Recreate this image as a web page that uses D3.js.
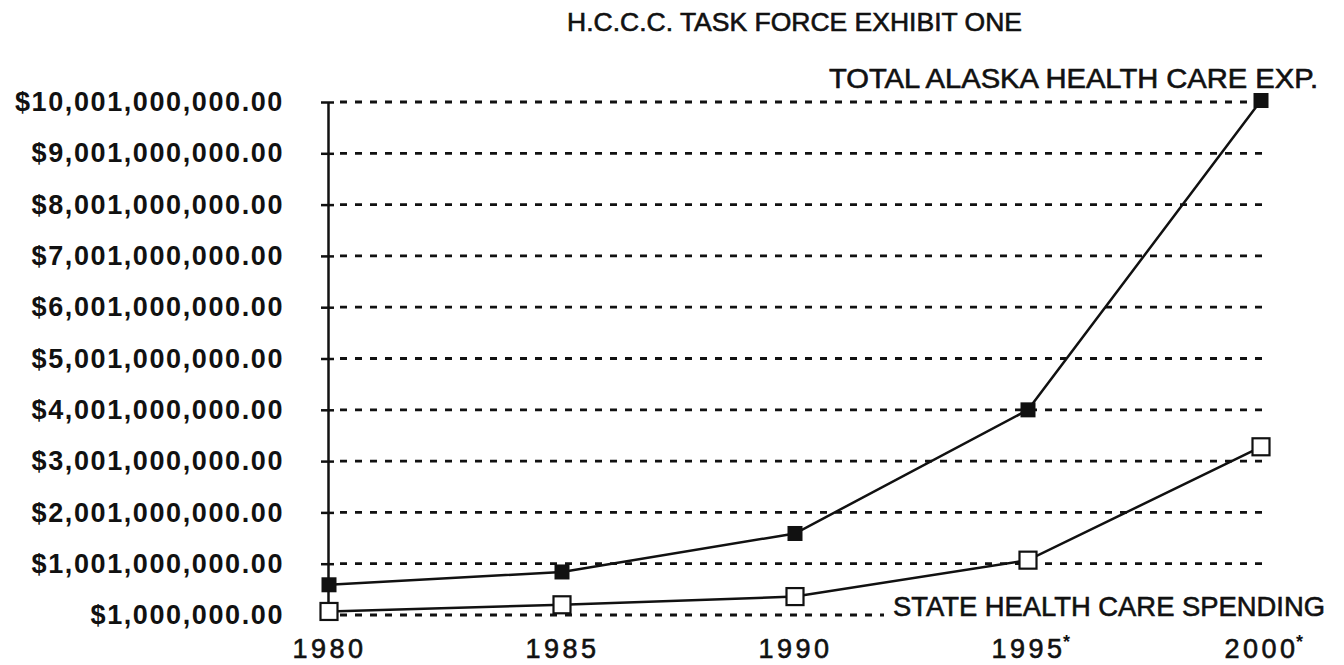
<!DOCTYPE html>
<html><head><meta charset="utf-8">
<script src="https://cdn.jsdelivr.net/npm/d3@7"></script>
<style>body{margin:0;background:#fff}</style>
</head><body>
<svg id="chart" width="1344" height="665"></svg>
<script>
const years = [1980, 1985, 1990, 1995, 2000];
const yearLabels = ["1980", "1985", "1990", "1995", "2000"];
const yearNotes = ["", "", "", "*", "*"];
const totalExp = [590e6, 840e6, 1590e6, 4000e6, 10030e6];
const stateSpending = [70e6, 200e6, 360e6, 1070e6, 3280e6];
const yTicks = [1e6, 1001e6, 2001e6, 3001e6, 4001e6, 5001e6, 6001e6, 7001e6, 8001e6, 9001e6, 10001e6];
const yTickLabels = ["$1,000,000.00", "$1,001,000,000.00", "$2,001,000,000.00", "$3,001,000,000.00",
  "$4,001,000,000.00", "$5,001,000,000.00", "$6,001,000,000.00", "$7,001,000,000.00",
  "$8,001,000,000.00", "$9,001,000,000.00", "$10,001,000,000.00"];
const titleText = "H.C.C.C. TASK FORCE EXHIBIT ONE";
const totalLabel = "TOTAL ALASKA HEALTH CARE EXP.";
const stateLabel = "STATE HEALTH CARE SPENDING";

const svg = d3.select("#chart");
const font = "'Liberation Sans', Arial, Helvetica, sans-serif";
const ink = "#111";
svg.append("rect").attr("width", 1344).attr("height", 665).attr("fill", "#fff");

const x = d3.scaleLinear().domain([1980, 2000]).range([329, 1261]);
const y = d3.scaleLinear().domain([1e6, 10001e6]).range([615, 102]);

// title
svg.append("text").attr("x", 567).attr("y", 31)
  .attr("font-family", font).attr("font-size", 25).attr("fill", ink)
  .attr("stroke", ink).attr("stroke-width", 0.6)
  .attr("textLength", 455).attr("lengthAdjust", "spacingAndGlyphs")
  .text(titleText);

// gridlines
svg.append("g").selectAll("line").data(yTicks).join("line")
  .attr("x1", 340)
  .attr("x2", (d, i) => i === 0 ? 884 : 1262)
  .attr("y1", d => y(d)).attr("y2", d => y(d))
  .attr("stroke", ink).attr("stroke-width", 2.8)
  .attr("stroke-dasharray", "7,8");

// y axis
const yAxis = svg.append("g").attr("transform", "translate(328,0)")
  .call(d3.axisLeft(y).tickValues(yTicks).tickFormat((d, i) => yTickLabels[i])
    .tickSizeInner(6).tickSizeOuter(0).tickPadding(38));
yAxis.select(".domain").attr("stroke", ink).attr("stroke-width", 2.5);
yAxis.selectAll(".tick line").attr("x1", 6).attr("x2", -7).attr("stroke", ink).attr("stroke-width", 2.5);
yAxis.selectAll(".tick text").attr("font-family", font).attr("font-size", 27)
  .attr("font-weight", "bold").attr("fill", ink).attr("letter-spacing", 1.6);

// x axis labels
const xAxis = svg.append("g")
  .call(d3.axisBottom(x).tickValues(years).tickFormat((d, i) => yearLabels[i]).tickSize(0));
xAxis.select(".domain").remove();
xAxis.selectAll(".tick text").attr("y", 658).attr("dy", 0)
  .attr("font-family", font).attr("font-size", 27).attr("fill", ink)
  .attr("stroke", ink).attr("stroke-width", 0.6)
  .attr("letter-spacing", 3.5);
xAxis.selectAll(".tick").each(function(d, i) {
  if (!yearNotes[i]) return;
  const t = d3.select(this).select("text");
  const w = t.node().getComputedTextLength();
  d3.select(this).append("text").attr("x", w / 2 + 1).attr("y", 648)
    .attr("font-family", font).attr("font-size", 18).attr("font-weight", "bold")
    .attr("fill", ink).text(yearNotes[i]);
});

// lines
const line = d3.line().x((d, i) => x(years[i])).y(d => y(d));
svg.append("path").datum(totalExp).attr("d", line)
  .attr("fill", "none").attr("stroke", ink).attr("stroke-width", 2.5);
svg.append("path").datum(stateSpending).attr("d", line)
  .attr("fill", "none").attr("stroke", ink).attr("stroke-width", 2.5);

// markers
svg.append("g").selectAll("rect").data(totalExp).join("rect")
  .attr("x", (d, i) => x(years[i]) - 7.5).attr("y", d => y(d) - 7.5)
  .attr("width", 15).attr("height", 15).attr("fill", ink);
svg.append("g").selectAll("rect").data(stateSpending).join("rect")
  .attr("x", (d, i) => x(years[i]) - 8.5).attr("y", d => y(d) - 8.5)
  .attr("width", 17).attr("height", 17).attr("fill", "#fff")
  .attr("stroke", ink).attr("stroke-width", 2.2);

// series labels
svg.append("text").attr("x", 829).attr("y", 88)
  .attr("font-family", font).attr("font-size", 27).attr("fill", ink)
  .attr("stroke", ink).attr("stroke-width", 0.6)
  .attr("textLength", 489).attr("lengthAdjust", "spacingAndGlyphs")
  .text(totalLabel);
svg.append("text").attr("x", 893).attr("y", 616)
  .attr("font-family", font).attr("font-size", 28).attr("fill", ink)
  .attr("stroke", ink).attr("stroke-width", 0.6)
  .attr("textLength", 432).attr("lengthAdjust", "spacingAndGlyphs")
  .text(stateLabel);
</script>
</body></html>
